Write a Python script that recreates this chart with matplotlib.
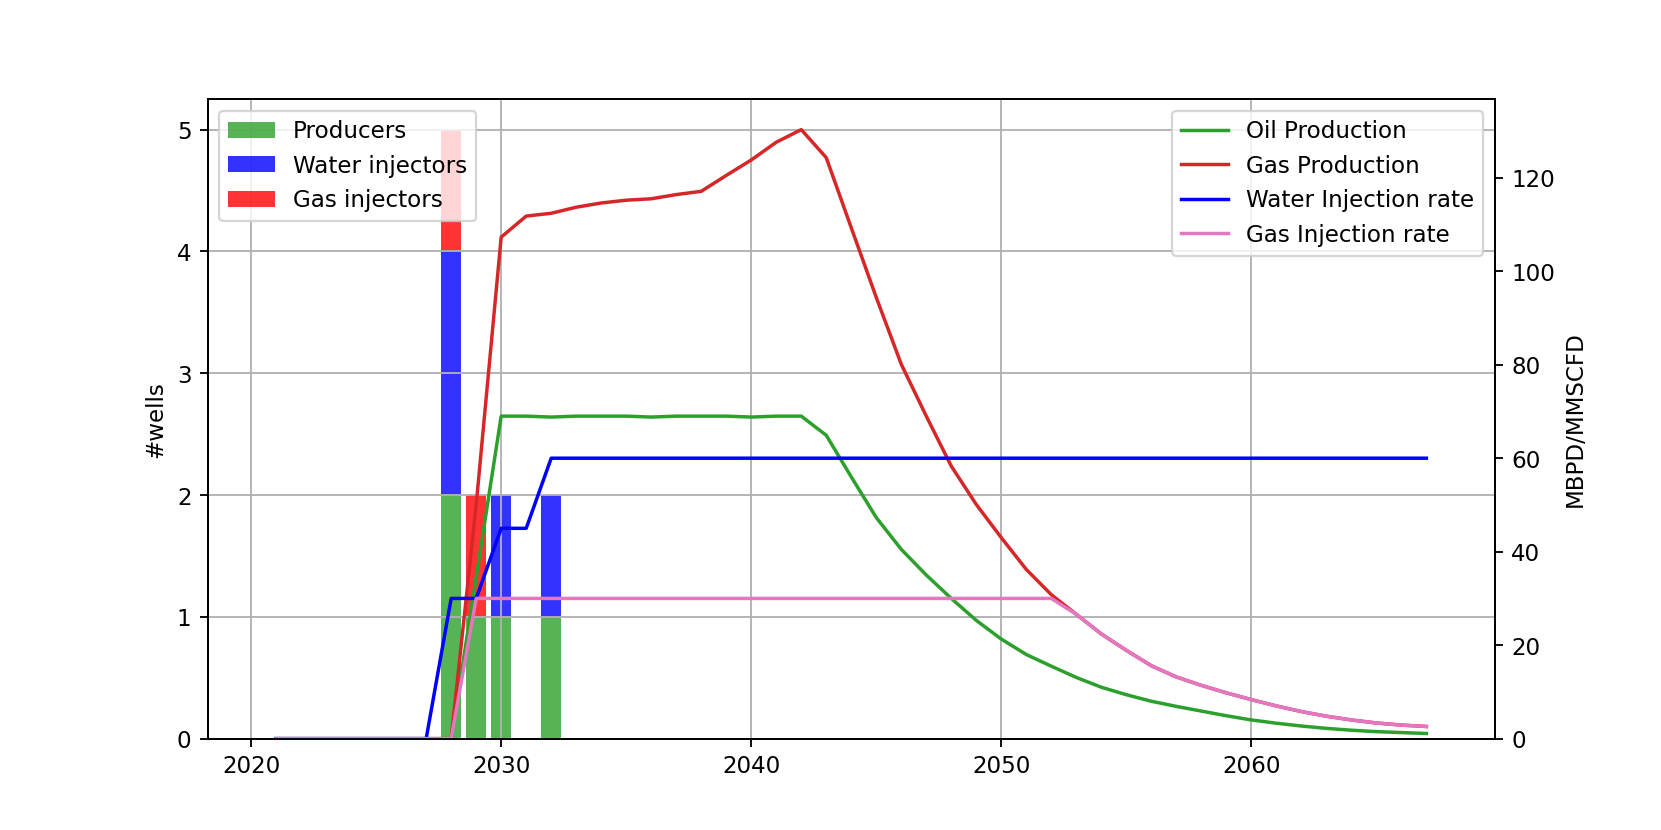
import matplotlib
matplotlib.use("Agg")
import matplotlib.pyplot as plt
import numpy as np

years = list(range(2021, 2068))

# wells drilled per year
producers = [0] * 7 + [2, 1, 1, 0, 1] + [0] * 35
water_injectors = [0] * 7 + [2, 0, 1, 0, 1] + [0] * 35
gas_injectors = [0] * 7 + [1, 1, 0, 0, 0] + [0] * 35

# rates (MBPD / MMSCFD)
oil_production = [0, 0, 0, 0, 0, 0, 0, 0, 34.5,
                  69.0, 69.0, 68.8, 69.0, 69.0, 69.0, 68.8, 69.0, 69.0, 69.0, 68.8, 69.0, 69.0,
                  64.9, 56.0, 47.3, 40.5, 35.0, 30.0, 25.3, 21.3, 18.0, 15.5, 13.1, 11.0,
                  9.4, 8.0, 6.9, 5.9, 4.9, 4.0, 3.3, 2.7, 2.2, 1.8, 1.5, 1.3, 1.1]
gas_production = [0, 0, 0, 0, 0, 0, 0, 0, 50.0,
                  107.3, 111.8, 112.4, 113.7, 114.6, 115.2, 115.5, 116.4, 117.1, 120.5, 123.8,
                  127.6, 130.3, 124.3, 109.3, 94.4, 80.1, 69.0, 58.3, 50.1, 43.0, 36.2, 30.8,
                  26.6, 22.4, 18.9, 15.6, 13.2, 11.4, 9.8, 8.35, 7.0, 5.8, 4.8, 4.0, 3.35, 2.9, 2.6]
water_injection = [0, 0, 0, 0, 0, 0, 0, 30, 30, 45, 45] + [60] * 36
gas_injection = [0, 0, 0, 0, 0, 0, 0, 0] + [30] * 24 + \
                [26.6, 22.4, 18.9, 15.6, 13.2, 11.4, 9.8, 8.35, 7.0, 5.8, 4.8, 4.0, 3.35, 2.9, 2.6]

fig, ax = plt.subplots(figsize=(10, 5), dpi=166.1)

bottom_w = np.array(producers)
bottom_g = bottom_w + np.array(water_injectors)
ax.bar(years, producers, 0.8, color='tab:green', alpha=0.8, label='Producers')
ax.bar(years, water_injectors, 0.8, bottom=bottom_w, color='blue', alpha=0.8, label='Water injectors')
ax.bar(years, gas_injectors, 0.8, bottom=bottom_g, color='red', alpha=0.8, label='Gas injectors')
ax.set_ylabel('#wells')
ax.grid(True)
ax.legend(loc='upper left')

ax2 = ax.twinx()
ax2.plot(years, oil_production, color='tab:green', label='Oil Production')
ax2.plot(years, gas_production, color='tab:red', label='Gas Production')
ax2.plot(years, water_injection, color='blue', label='Water Injection rate')
ax2.plot(years, gas_injection, color='tab:pink', label='Gas Injection rate')
ax2.set_ylim(bottom=0)
ax2.set_ylabel('MBPD/MMSCFD')
ax2.legend(loc='upper right')

plt.savefig('out.png')
